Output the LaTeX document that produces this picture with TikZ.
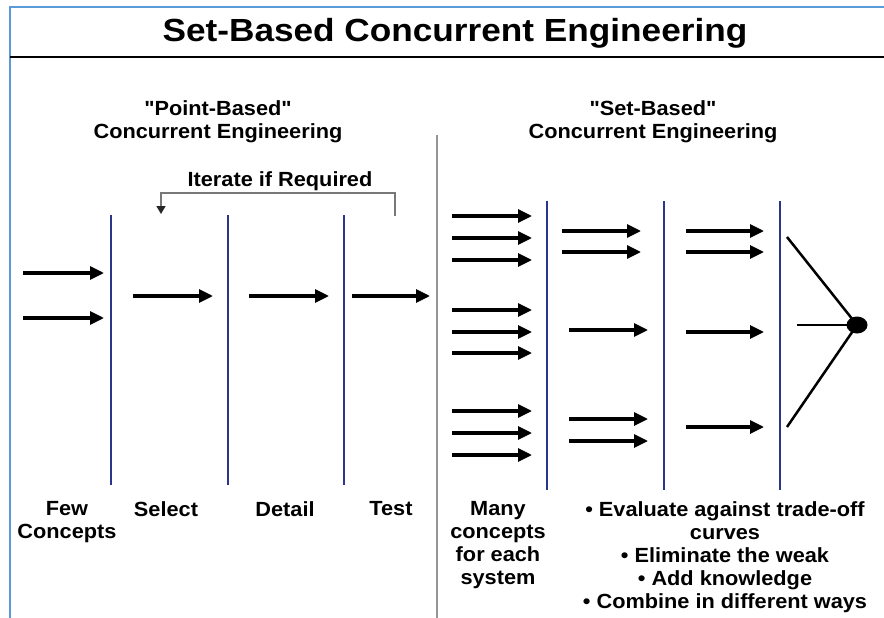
\documentclass[tikz,border=0pt]{standalone}
\usepackage{fontspec}
\setmainfont{Liberation Sans}
\newfontfamily\widefont[FakeStretch=1.06]{Liberation Sans}
\newfontfamily\titlefont[FakeStretch=1.1]{Liberation Sans}
\usetikzlibrary{positioning,arrows.meta,shapes.geometric}
\definecolor{stageblue}{RGB}{40,55,140}
\definecolor{frameblue}{RGB}{90,155,215}
\definecolor{dividergray}{RGB}{150,150,150}
\definecolor{bracketgray}{RGB}{120,120,120}

\begin{document}
\begin{tikzpicture}[
  x = 1pt,
  y = -1pt,
  stage/.style = {draw=stageblue, line width=2.6pt},
  flow/.style = {-{Triangle[length=14pt,width=13pt]}, line width=3.2pt},
  phase/.style = {font=\widefont\bfseries\fontsize{20.5}{23}\selectfont, align=center, inner sep=0pt},
  below-phase/.style = {phase, anchor=north},
  choice/.style = {ellipse, fill=black, minimum width=21pt, minimum height=17pt, inner sep=0pt},
  ]
  \useasboundingbox (0,0) rectangle (884,618);

  \draw[frameblue, line width=2.2pt] (10,618) -- (10,7) -- (884,7);
  \draw[line width=2.8pt] (10,57) -- (884,57);
  \node[font=\titlefont\bfseries\fontsize{32}{38}\selectfont] (title) at (455,33) {Set-Based Concurrent Engineering};
  \draw[dividergray, line width=2pt] (437,135) -- (437,618);

  \node[phase] (point-based) at (218,122) {"Point-Based"\\Concurrent Engineering};
  \node[phase] (iterate) at (280,181) {Iterate if Required};
  \coordinate (loop-start) at (395,216);
  \coordinate (loop-end) at (161,214);
  \draw[bracketgray, line width=1.6pt, -{Triangle[length=8pt,width=9pt,fill=black!85,color=black!85]}]
    (loop-start) |- (278,193) -| (loop-end);

  \foreach \x/\name in {111/select,228/detail,344/test} {
    \draw[stage] (\x,215) coordinate (\name-top) -- (\x,485) coordinate (\name-bottom);
  }
  \foreach \y in {273,318} {
    \draw[flow] (23,\y) -- (104,\y);
  }
  \foreach \xa/\xb in {133/213,249/329,352/430} {
    \draw[flow] (\xa,296) -- (\xb,296);
  }

  \node[below-phase] (few) at (67,501) {Few\\Concepts};
  \node[below-phase] (select) at (166,501) {Select};
  \node[below-phase] (detail) at (285,501) {Detail};
  \node[below-phase] (test) at (391,501) {Test};

  \node[phase] (set-based) at (653,122) {"Set-Based"\\Concurrent Engineering};

  \foreach \x/\name in {547/many,664/narrow,780/converge} {
    \draw[stage] (\x,201) coordinate (\name-top) -- (\x,490) coordinate (\name-bottom);
  }
  \foreach \y in {216,238,260,310,332,353,411,433,455} {
    \draw[flow] (452,\y) -- (532,\y);
  }
  \foreach \xa/\xb/\y in {562/641/231,562/641/252,569/648/330,569/648/419,569/648/441} {
    \draw[flow] (\xa,\y) -- (\xb,\y);
  }
  \foreach \y in {231,252,332,427} {
    \draw[flow] (686,\y) -- (764,\y);
  }

  \node[choice] (solution) at (857,325) {};
  \coordinate (upper) at (787,237);
  \coordinate (middle) at (797,325);
  \coordinate (lower) at (787,427);
  \draw[line width=2.5pt] (upper) -- (solution.center);
  \draw[line width=2.5pt] (middle) -- (solution.center);
  \draw[line width=2.5pt] (lower) -- (solution.center);

  \node[below-phase] (many) at (498,501) {Many\\concepts\\for each\\system};
  \node[below-phase] (activities) at (725,501) {• Evaluate against trade-off\\curves\\• Eliminate the weak\\• Add knowledge\\• Combine in different ways};
\end{tikzpicture}
\end{document}
